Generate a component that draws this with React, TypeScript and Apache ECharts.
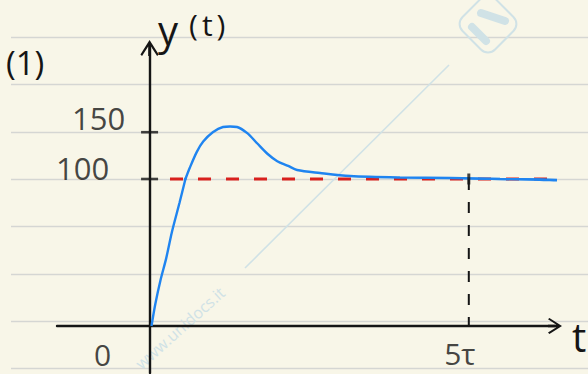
import React, { useEffect, useRef } from 'react';
import * as echarts from 'echarts';

// Step response y(t): time in units of tau, output in the same units as the tick labels.
const STEP_T = [0.03, 0.09, 0.17, 0.26, 0.35, 0.47, 0.55, 0.63, 0.74, 0.84, 0.99, 1.15, 1.26, 1.37, 1.53, 1.68, 1.85, 2.0, 2.17, 2.31, 2.67, 3.14, 3.92, 4.71, 5.49, 6.11, 6.51, 6.79];
const STEP_Y = [0, 15, 31, 46, 64, 84, 98, 112, 129, 140, 150, 155.6, 156.1, 155.6, 149, 138.5, 126.7, 119, 114, 109.6, 106.4, 103.2, 101.6, 101.1, 100, 99.5, 98.9, 101.1];

// Steady-state reference level and the span its dashed line covers.
const SETPOINT = 100;
const SETPOINT_T = [0.32, 6.79];

// Settling time marker (5 tau) and the labelled axis values.
const SETTLING_T = 5;
const Y_TICKS = [100, 150];
const X_TICKS = [0, 5];
const X_TICK_LABELS = ['0', '5τ'];

const HAND = "'Open Sans', 'DejaVu Sans', sans-serif";
const INK = '#151515';
const BLUE = '#1f84f0';
const RED = '#d8201d';
const PAPER = '#f8f6e8';
const RULE = '#d5d6d3';
const MARK = '#d0e2e6';

// Open chevron with a short shaft, pointing up (ECharts rotates it along the axis).
const ARROW = 'path://M8,0 L16,12.6 L14.6,14 L9.2,5.6 L9.2,14 L6.8,14 L6.8,5.6 L1.4,14 L0,12.6 Z';

const X_MIN = -1.45;
const X_MAX = 6.35;

function buildOption(): echarts.EChartsOption {
  const curve = STEP_T.map((t, i) => [t, STEP_Y[i]]);
  const yLabelOffsets: Record<number, number[]> = { 100: [-67, -11], 150: [-51, -14] };
  const xLabelOffsets: Record<number, number[]> = { 0: [-47, 29], 5: [-9, 28] };

  const curveSeries = (idx: number) => ({
    type: 'line' as const,
    xAxisIndex: idx,
    yAxisIndex: idx,
    data: curve,
    smooth: 0.3,
    symbol: 'none',
    clip: true,
    lineStyle: { color: BLUE, width: 2.4 },
    z: 5,
  });

  const handLabel = {
    show: true,
    position: 'inside' as const,
    fontFamily: HAND,
    color: INK,
  };

  // notebook ruling
  const rules = Array.from({ length: 8 }, (_, i) => {
    const y = Math.round(37 + i * 47.3) + 0.5;
    return {
      type: 'line' as const,
      z: -10,
      shape: { x1: 11, y1: y, x2: 588, y2: y },
      style: { stroke: RULE, lineWidth: 1.6 },
      silent: true,
    };
  });

  return {
    animation: false,
    backgroundColor: PAPER,
    grid: [
      { left: 57, right: 33, top: 179, height: 194, outerBoundsMode: 'none', containLabel: false },
      { left: 57, right: 33, top: 48, height: 131, outerBoundsMode: 'none', containLabel: false },
    ],
    xAxis: [
      {
        gridIndex: 0,
        type: 'value',
        min: X_MIN,
        max: X_MAX,
        axisLine: {
          onZero: true,
          lineStyle: { color: INK, width: 2.4 },
          symbol: ['none', ARROW],
          symbolSize: [16, 14],
        },
        axisTick: { show: false },
        splitLine: { show: false },
        axisLabel: { show: false },
      },
      { gridIndex: 1, type: 'value', min: X_MIN, max: X_MAX, show: false },
    ],
    yAxis: [
      {
        gridIndex: 0,
        type: 'value',
        min: -32,
        max: 100,
        axisLine: { onZero: true, lineStyle: { color: INK, width: 2.4 } },
        axisTick: { show: false },
        axisLabel: { show: false },
        splitLine: { show: false },
      },
      {
        gridIndex: 1,
        type: 'value',
        min: 100,
        max: 240,
        axisLine: {
          onZero: true,
          lineStyle: { color: INK, width: 2.4 },
          symbol: ['none', ARROW],
          symbolSize: [21, 16],
        },
        axisTick: { show: false },
        axisLabel: { show: false },
        splitLine: { show: false },
      },
    ],
    graphic: [
      ...rules,
      // faint watermark
      {
        type: 'line',
        z: -5,
        silent: true,
        shape: { x1: 449, y1: 65, x2: 245, y2: 268 },
        style: { stroke: MARK, lineWidth: 1.6 },
      },
      {
        type: 'rect',
        z: -5,
        silent: true,
        x: 488,
        y: 24,
        rotation: Math.PI / 4,
        shape: { x: -23, y: -23, width: 46, height: 46, r: 10 },
        style: { fill: 'none', stroke: MARK, lineWidth: 2 },
      },
      {
        type: 'line',
        z: -5,
        silent: true,
        shape: { x1: 472, y1: 27, x2: 486, y2: 41 },
        style: { stroke: MARK, lineWidth: 8, lineCap: 'round' },
      },
      {
        type: 'line',
        z: -5,
        silent: true,
        shape: { x1: 481, y1: 13, x2: 505, y2: 21 },
        style: { stroke: MARK, lineWidth: 8, lineCap: 'round' },
      },
      {
        type: 'text',
        z: -5,
        silent: true,
        x: 180,
        y: 328,
        rotation: 0.73,
        style: {
          text: 'www.unidocs.it',
          fontSize: 16,
          fontFamily: HAND,
          fill: MARK,
          align: 'center',
          verticalAlign: 'middle',
        },
      },
      // panel number, axis titles
      {
        type: 'text',
        x: 6,
        y: 46,
        style: { text: '(1)', fontSize: 33, fontFamily: HAND, fill: INK, verticalAlign: 'top' },
      },
      {
        type: 'text',
        x: 158,
        y: 9,
        style: {
          text: '{a|y}{b|(}{c|t}{b|)}',
          fill: INK,
          verticalAlign: 'top',
          rich: {
            a: { fontSize: 40, fontFamily: HAND, fill: INK, verticalAlign: 'top', padding: [0, 11, 0, 0] },
            b: { fontSize: 30, fontFamily: HAND, fill: INK, verticalAlign: 'top' },
            c: { fontSize: 30, fontFamily: HAND, fill: INK, verticalAlign: 'top', padding: [0, 4, 0, 4] },
          },
        },
      },
      {
        type: 'text',
        x: 572,
        y: 336,
        style: { text: 't', fontSize: 40, fontFamily: HAND, fill: INK, verticalAlign: 'middle' },
      },
    ],
    series: [
      {
        type: 'line',
        xAxisIndex: 1,
        yAxisIndex: 1,
        data: SETPOINT_T.map((t) => [t, SETPOINT]),
        symbol: 'none',
        clip: false,
        lineStyle: { color: RED, width: 2.8, type: [13, 15] },
        z: 3,
      },
      {
        type: 'line',
        xAxisIndex: 0,
        yAxisIndex: 0,
        data: [
          [SETTLING_T, SETPOINT],
          [SETTLING_T, 0],
        ],
        symbol: 'none',
        clip: false,
        lineStyle: { color: INK, width: 2, type: [11, 12] },
        z: 3,
      },
      curveSeries(0),
      curveSeries(1),
      // y tick marks crossing the axis, with their values
      {
        type: 'scatter',
        xAxisIndex: 1,
        yAxisIndex: 1,
        clip: false,
        symbol: 'rect',
        symbolSize: [17, 2.6],
        itemStyle: { color: INK },
        data: Y_TICKS.map((v) => ({ value: [0, v], label: { offset: yLabelOffsets[v] } })),
        label: { ...handLabel, fontSize: 31, formatter: (p: any) => String(p.value[1]) },
        z: 6,
      },
      // settling-time tick on the reference level
      {
        type: 'scatter',
        xAxisIndex: 1,
        yAxisIndex: 1,
        clip: false,
        symbol: 'rect',
        symbolSize: [3, 11],
        itemStyle: { color: INK },
        data: [[SETTLING_T, SETPOINT]],
        z: 6,
      },
      // time labels under the t axis (anchors are invisible)
      {
        type: 'scatter',
        xAxisIndex: 0,
        yAxisIndex: 0,
        clip: false,
        symbol: 'circle',
        symbolSize: 2,
        itemStyle: { color: 'rgba(0,0,0,0)' },
        data: X_TICKS.map((t, i) => ({
          value: [t, 0],
          name: X_TICK_LABELS[i],
          label: { offset: xLabelOffsets[t] },
        })),
        label: { ...handLabel, fontSize: 30, formatter: (p: any) => p.name },
        z: 6,
      },
    ],
  } as echarts.EChartsOption;
}

export default function App() {
  const ref = useRef<HTMLDivElement>(null);
  useEffect(() => {
    if (!ref.current) return;
    const chart = echarts.init(ref.current, null, { renderer: 'svg' });
    chart.setOption(buildOption());
    return () => chart.dispose();
  }, []);
  return (
    <div
      ref={ref}
      style={{ position: 'fixed', left: 0, top: 0, width: 588, height: 374 }}
    />
  );
}
